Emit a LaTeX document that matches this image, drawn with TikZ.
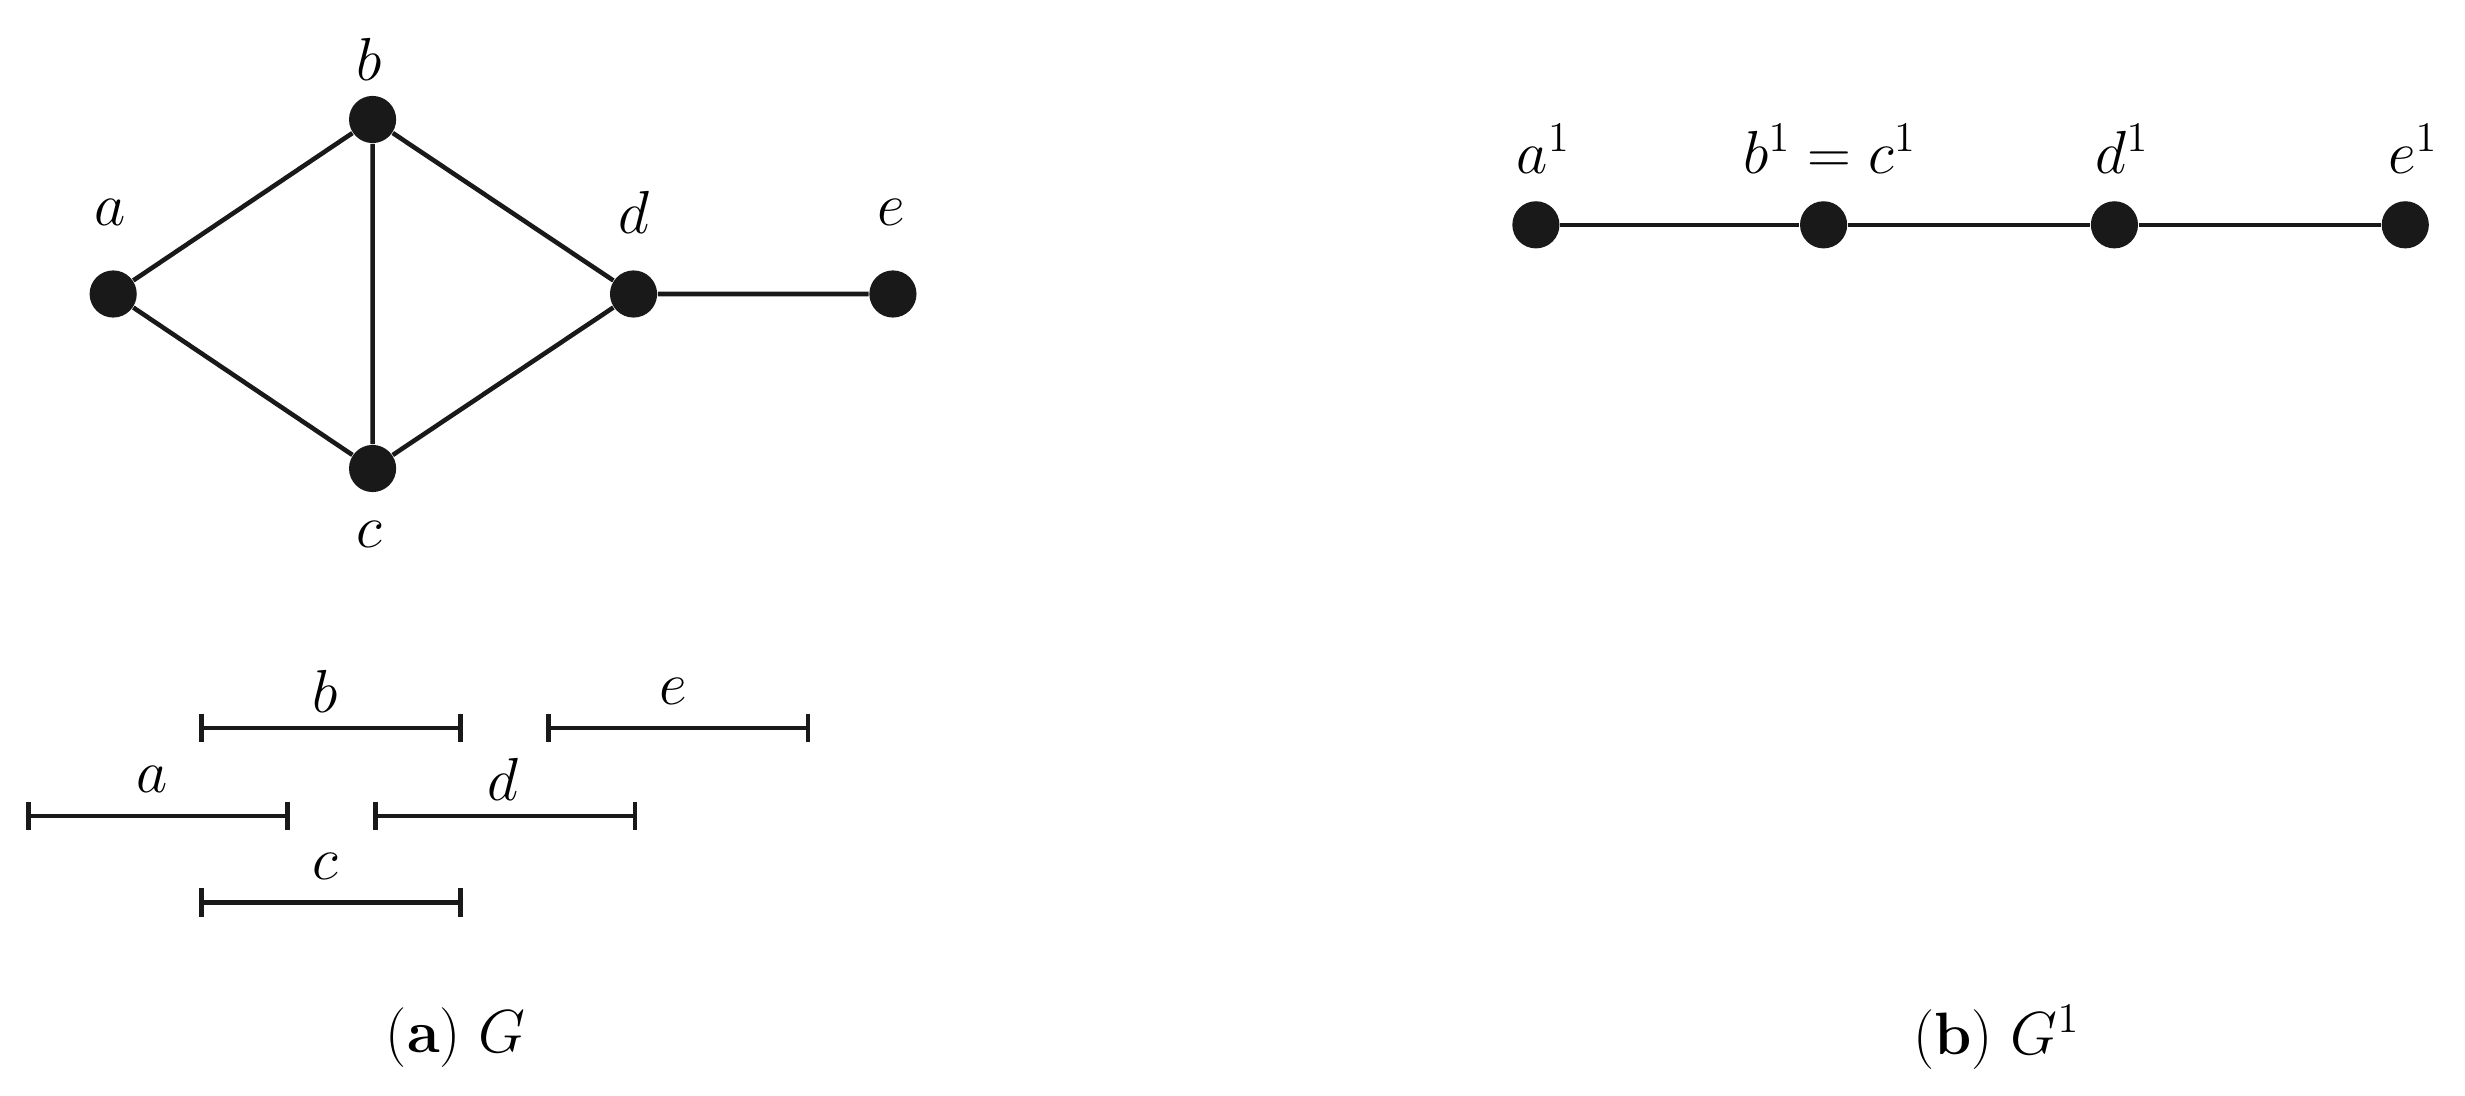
\documentclass[tikz,border=0pt]{standalone}
\begin{document}
\begin{tikzpicture}[x=0.01572cm,y=-0.01572cm,
  dot/.style={circle,fill=black!90,draw=none,minimum size=30*0.01572cm,inner sep=0pt},
  lbl/.style={font=\fontsize{17}{20}\selectfont,inner sep=0pt},
  edge/.style={line width=1.3pt,black!90},
  ivl/.style={line width=1.3pt,black!90,|-|, >=Bar}]
\useasboundingbox (0,0) rectangle (1568,697);
% graph G
\node[dot] (a) at (72,187) {};
\node[dot] (b) at (237,76) {};
\node[dot] (c) at (237,298) {};
\node[dot] (d) at (403,187) {};
\node[dot] (e) at (568,187) {};
\node[lbl] (la) at (70,135) {$a$};
\node[lbl] (lb) at (235,38) {$b$};
\node[lbl] (lc) at (235,340) {$c$};
\node[lbl] (ld) at (403,135) {$d$};
\node[lbl] (le) at (567,135) {$e$};
\draw[edge] (a)--(b) (a)--(c) (b)--(c) (b)--(d) (c)--(d) (d)--(e);
% intervals
\tikzset{tick/.style={edge}}
\foreach \n/\xa/\xb/\y in {ib/128/293/463, ie/349/514/463, ia/18/183/519, id/239/404/519, ic/128/293/574}{
  \coordinate (\n1) at (\xa,\y); \coordinate (\n2) at (\xb,\y);
  \draw[edge] (\n1)--(\n2);
  \draw[edge] ([yshift=9*0.01572cm]\n1)--([yshift=-9*0.01572cm]\n1);
  \draw[edge] ([yshift=9*0.01572cm]\n2)--([yshift=-9*0.01572cm]\n2);
}
\node[lbl] (tb) at (207,440) {$b$};
\node[lbl] (te) at (428,440) {$e$};
\node[lbl] (ta) at (97,496) {$a$};
\node[lbl] (td) at (320,496) {$d$};
\node[lbl] (tc) at (207,551) {$c$};
% G^1
\node[dot] (a1) at (977,143) {};
\node[dot] (b1) at (1160,143) {};
\node[dot] (d1) at (1345,143) {};
\node[dot] (e1) at (1530,143) {};
\draw[edge] (a1)--(b1)--(d1)--(e1);
\node[lbl] (la1) at (982,95) {$a^1$};
\node[lbl] (lb1) at (1164,95) {$b^1=c^1$};
\node[lbl] (ld1) at (1350,95) {$d^1$};
\node[lbl] (le1) at (1535,95) {$e^1$};
% captions
\node[lbl] (capa) at (290,660) {(\textbf{a}) $G$};
\node[lbl] (capb) at (1270,660) {(\textbf{b}) $G^1$};
\end{tikzpicture}
\end{document}
